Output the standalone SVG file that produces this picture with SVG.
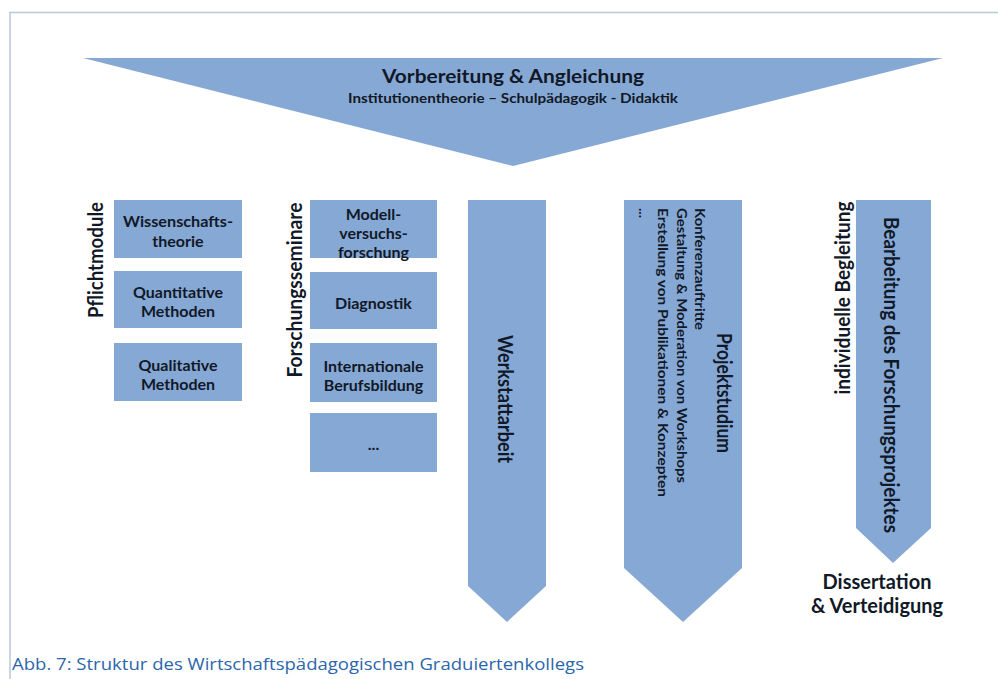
<svg xmlns="http://www.w3.org/2000/svg" width="998" height="679" viewBox="0 0 998 679">
<style>
.shape{fill:#86a8d4}
.t{font-family:Lato,"Open Sans","Liberation Sans",sans-serif;font-weight:bold;fill:#111827;text-anchor:middle;dominant-baseline:central}
.bx{font-size:16px}
.side{font-size:20px}
.note{font-size:14px;text-anchor:start}
.frame{stroke:#b9c9da;stroke-width:1.5;fill:none}
.cap{font-family:"Open Sans","Liberation Sans",sans-serif;font-size:17px;fill:#2b66ab}
</style>
<rect width="998" height="679" fill="#ffffff"/>
<path class="frame" d="M10,679 V12.5 H998"/>

<g id="vorbereitung">
<polygon class="shape" points="83,58 943,58 513,166"/>
<text class="t" x="513" y="75" font-size="19" textLength="262" lengthAdjust="spacingAndGlyphs">Vorbereitung &amp; Angleichung</text>
<text class="t" x="513" y="98" font-size="12.5" textLength="330" lengthAdjust="spacingAndGlyphs">Institutionentheorie – Schulpädagogik - Didaktik</text>
</g>

<g id="pflichtmodule">
<text class="t side" transform="translate(95,260) rotate(-90)" font-size="21" textLength="116" lengthAdjust="spacingAndGlyphs">Pflichtmodule</text>
</g>
<g id="wissenschaftstheorie">
<rect class="shape" x="114" y="200" width="128" height="58"/>
<text class="t bx" x="178" y="220" textLength="110" lengthAdjust="spacingAndGlyphs">Wissenschafts-</text>
<text class="t bx" x="178" y="240">theorie</text>
</g>
<g id="quantitative">
<rect class="shape" x="114" y="271" width="128" height="57"/>
<text class="t bx" x="178" y="291" textLength="90" lengthAdjust="spacingAndGlyphs">Quantitative</text>
<text class="t bx" x="178" y="310">Methoden</text>
</g>
<g id="qualitative">
<rect class="shape" x="114" y="343" width="128" height="58"/>
<text class="t bx" x="178" y="364">Qualitative</text>
<text class="t bx" x="178" y="383">Methoden</text>
</g>

<g id="forschungsseminare">
<text class="t side" transform="translate(294,290) rotate(-90)" textLength="175" lengthAdjust="spacingAndGlyphs">Forschungsseminare</text>
</g>
<g id="modellversuchsforschung">
<rect class="shape" x="310" y="200" width="127" height="58"/>
<text class="t bx" x="373.5" y="213">Modell-</text>
<text class="t bx" x="373.5" y="232">versuchs-</text>
<text class="t bx" x="373.5" y="251">forschung</text>
</g>
<g id="diagnostik">
<rect class="shape" x="310" y="272" width="127" height="57"/>
<text class="t bx" x="373.5" y="302">Diagnostik</text>
</g>
<g id="internationale">
<rect class="shape" x="310" y="343" width="127" height="59"/>
<text class="t bx" x="373.5" y="365">Internationale</text>
<text class="t bx" x="373.5" y="384">Berufsbildung</text>
</g>
<g id="weitere">
<rect class="shape" x="310" y="413" width="127" height="59"/>
<text class="t bx" x="373.5" y="443">...</text>
</g>

<g id="werkstattarbeit">
<polygon class="shape" points="468,200 546,200 546,586 507,622 468,586"/>
<text class="t side" transform="translate(506,399) rotate(90)" font-size="19" textLength="128" lengthAdjust="spacingAndGlyphs">Werkstattarbeit</text>
</g>

<g id="projektstudium">
<polygon class="shape" points="624,200 742,200 742,568 683,622 624,568"/>
<text class="t side" transform="translate(725,393) rotate(90)" font-size="19" textLength="120" lengthAdjust="spacingAndGlyphs">Projektstudium</text>
<text class="t note" transform="translate(700,208) rotate(90)" textLength="122" lengthAdjust="spacingAndGlyphs">Konferenzauftritte</text>
<text class="t note" transform="translate(682,208) rotate(90)" textLength="275" lengthAdjust="spacingAndGlyphs">Gestaltung &amp; Moderation von Workshops</text>
<text class="t note" transform="translate(663,208) rotate(90)" textLength="289" lengthAdjust="spacingAndGlyphs">Erstellung von Publikationen &amp; Konzepten</text>
<text class="t note" transform="translate(644,208) rotate(90)">...</text>
</g>

<g id="begleitung">
<text class="t side" transform="translate(842,298) rotate(-90)" font-size="19" textLength="193" lengthAdjust="spacingAndGlyphs">individuelle Begleitung</text>
</g>

<g id="bearbeitung">
<polygon class="shape" points="856,200 931,200 931,528 893,563 856,528"/>
<text class="t side" transform="translate(892,375) rotate(90)" font-size="18" textLength="316" lengthAdjust="spacingAndGlyphs">Bearbeitung des Forschungsprojektes</text>
</g>

<g id="dissertation">
<text class="t" x="877" y="581" font-size="20">Dissertation</text>
<text class="t" x="877" y="605" font-size="20">&amp; Verteidigung</text>
</g>

<g id="connectors"></g>

<text class="cap" x="12" y="670" textLength="572" lengthAdjust="spacingAndGlyphs">Abb. 7: Struktur des Wirtschaftspädagogischen Graduiertenkollegs</text>
</svg>
